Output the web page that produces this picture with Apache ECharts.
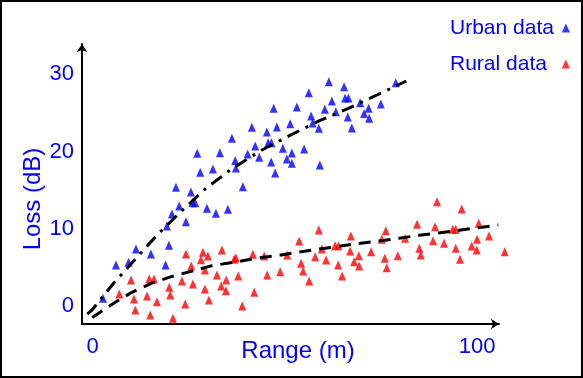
<!DOCTYPE html>
<html><head><meta charset="utf-8">
<script src="https://cdn.jsdelivr.net/npm/echarts@6/dist/echarts.min.js"></script>
<style>html,body{margin:0;padding:0;background:#fff}#c{width:583px;height:378px}</style>
</head><body><div id="c"></div>
<script>
// ---- data ----
const xTickLabels = [0, 100];
const yTickLabels = [0, 10, 20, 30];
const xTitle = 'Range (m)';
const yTitle = 'Loss (dB)';
const seriesNames = ['Urban data', 'Rural data'];

const urbanRange = [61.43,65.40,78.83,56.23,47.09,53.12,62.23,65.66,66.52,69.56,74.94,60.39,63.25,71.77,70.60,71.90,66.36,56.83,57.22,58.83,67.40,41.43,51.38,47.92,45.32,36.23,42.29,45.66,46.52,49.48,55.01,51.82,40.34,43.32,37.09,37.27,46.44,50.52,51.82,59.09,47.48,39.09,27.22,33.12,28.00,31.30,21.69,25.58,22.55,26.00,26.70,29.74,35.19,32.08,20.65,24.29,19.35,11.30,19.87,15.19,6.10,9.38,18.99,2.73];
const urbanLoss = [29.03,28.38,28.90,27.61,25.59,25.76,26.53,26.92,26.92,26.31,26.15,25.47,25.15,25.59,24.92,24.30,24.47,24.60,23.69,23.01,23.05,23.14,23.60,23.17,22.53,21.71,20.72,21.15,21.15,20.42,20.33,19.81,19.68,19.26,18.84,17.88,18.65,19.04,18.48,18.26,17.23,15.46,19.77,19.85,17.32,17.75,15.38,14.77,12.96,13.39,13.39,12.67,12.54,12.02,11.93,10.93,10.38,7.41,7.88,6.76,5.34,5.69,5.34,1.03];

const ruralRange = [24.29,28.70,30.00,33.64,28.18,25.66,29.22,32.34,36.83,10.00,14.75,15.97,23.25,26.10,34.75,33.45,34.68,29.22,19.95,20.21,6.96,10.78,14.16,16.75,30.26,24.10,11.12,15.01,20.91,58.83,53.71,67.14,63.06,63.92,59.61,72.42,66.96,69.22,37.27,41.69,44.62,50.60,57.87,60.73,68.00,69.30,63.84,54.23,54.75,48.78,45.40,37.87,64.88,56.31,42.03,38.91,89.56,95.97,84.36,89.04,93.64,94.42,100.39,103.06,76.23,75.19,81.25,88.52,91.38,99.95,98.57,99.87,94.42,107.14,84.96,85.32,79.35,75.97,95.53,76.49];
const ruralLoss = [6.76,6.98,6.50,7.28,6.02,5.21,4.69,4.05,6.07,3.40,3.53,3.53,3.27,2.88,3.40,2.62,2.02,2.24,2.46,1.46,1.59,0.94,1.33,0.59,0.81,0.30,-0.48,-1.12,-1.55,9.86,8.44,9.09,7.83,7.83,7.41,7.06,7.15,6.54,6.28,6.72,6.50,6.63,6.41,5.98,5.76,5.21,5.34,5.56,4.56,4.47,4.05,3.92,3.92,3.27,1.81,0.04,13.52,12.58,10.60,10.29,9.95,9.95,10.73,9.09,9.77,8.66,8.79,8.48,8.14,8.66,7.79,7.28,7.50,7.06,7.50,6.63,6.54,6.20,6.07,4.99];

const urbanFitRange = [-1.35,-0.13,5.48,11.12,17.01,23.25,29.30,35.79,44.03,51.19,59.00,66.53,73.90,81.56];
const urbanFitLoss  = [-1.00,-0.48,2.97,6.07,9.34,12.36,15.16,17.62,20.20,22.05,23.99,25.59,27.31,29.12];

const ruralFitRange = [-0.05,5.48,10.26,15.27,20.47,25.66,31.04,36.83,41.69,47.30,52.68,57.87,63.32,68.70,74.31,79.69,84.96,90.34,95.79,101.17,105.48];
const ruralFitLoss  = [-1.45,0.39,1.81,2.97,3.83,4.52,5.25,5.69,6.15,6.50,6.93,7.32,7.70,8.09,8.44,8.79,9.18,9.51,9.86,10.21,10.51];

// ---- chart ----
const FONT = '"Liberation Sans", Arial, Helvetica, sans-serif';
const BLUE = '#0000ff', RED = '#ff0000';
const pairs = (xs, ys) => xs.map((x, i) => [x, ys[i]]);

const chart = echarts.init(document.getElementById('c'), null, {renderer: 'canvas'});
chart.setOption({
  animation: false,
  backgroundColor: '#fff',
  grid: {left: 82, right: 84, top: 44, bottom: 54, containLabel: false},
  xAxis: {
    type: 'value', min: -2.73, max: 105.66,
    axisLine: {show: true, onZero: false, symbol: ['none', 'arrow'], symbolSize: [8, 8],
      lineStyle: {color: '#000', width: 2}},
    axisTick: {show: false}, splitLine: {show: false},
    axisLabel: {customValues: xTickLabels, color: BLUE, fontSize: 22, fontFamily: FONT, margin: 12}
  },
  yAxis: {
    type: 'value', min: -2.288, max: 33.9,
    axisLine: {show: true, onZero: false, symbol: ['none', 'arrow'], symbolSize: [8, 8],
      lineStyle: {color: '#000', width: 2}},
    axisTick: {show: false}, splitLine: {show: false},
    axisLabel: {customValues: yTickLabels, color: BLUE, fontSize: 22, fontFamily: FONT, margin: 8, padding: [6, 0, 0, 0]}
  },
  legend: {
    data: [
      {name: seriesNames[0], icon: 'triangle', itemStyle: {color: BLUE}, textStyle: {padding: [0, 3, 0, 0]}},
      {name: seriesNames[1], icon: 'triangle', itemStyle: {color: RED}, textStyle: {padding: [0, 10, 0, 2]}}
    ],
    orient: 'vertical', align: 'right', left: 448, top: 16,
    itemWidth: 8, itemHeight: 9, itemGap: 12, padding: 0,
    textStyle: {color: BLUE, fontSize: 21, fontFamily: FONT, lineHeight: 24}
  },
  graphic: [
    {type: 'rect', shape: {x: 1, y: 1, width: 581, height: 376}, style: {fill: 'none', stroke: '#000', lineWidth: 2}, silent: true, z: 100},
    {type: 'text', x: 298, y: 351, style: {text: xTitle, fill: BLUE, font: '24px ' + FONT, textAlign: 'center', textVerticalAlign: 'middle'}},
    {type: 'text', x: 33, y: 199, rotation: Math.PI / 2, style: {text: yTitle, fill: BLUE, font: '24px ' + FONT, textAlign: 'center', textVerticalAlign: 'middle'}}
  ],
  series: [
    {name: seriesNames[0], type: 'scatter', symbol: 'triangle', symbolSize: [8, 9], clip: false,
      itemStyle: {color: BLUE}, data: pairs(urbanRange, urbanLoss)},
    {name: seriesNames[1], type: 'scatter', symbol: 'triangle', symbolSize: [8, 9], clip: false,
      itemStyle: {color: RED}, data: pairs(ruralRange, ruralLoss)},
    {name: 'Urban fit', type: 'line', symbol: 'none', clip: false, z: 5,
      lineStyle: {color: '#000', width: 3, type: [13, 7, 3, 7]}, data: pairs(urbanFitRange, urbanFitLoss)},
    {name: 'Rural fit', type: 'line', symbol: 'none', clip: false, z: 5,
      lineStyle: {color: '#000', width: 3, type: [12, 8]}, data: pairs(ruralFitRange, ruralFitLoss)}
  ]
});
</script>
</body></html>
